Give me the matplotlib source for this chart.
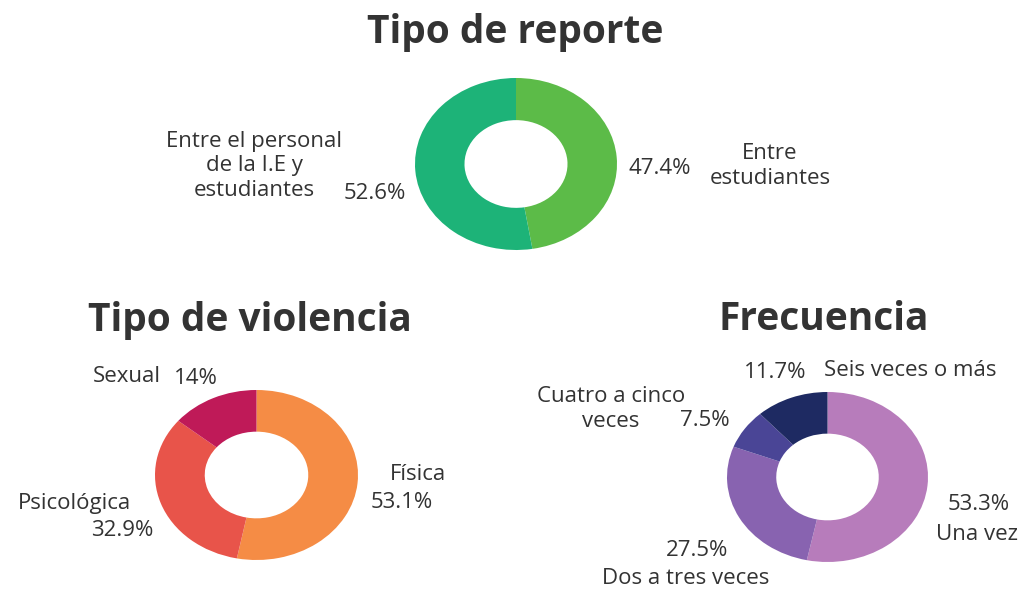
import matplotlib
matplotlib.use("Agg")
import matplotlib.pyplot as plt

plt.rcParams['font.family'] = ['Open Sans', 'DejaVu Sans']

# ---- data ----
reporte_labels = ["Entre\nestudiantes", "Entre el personal\nde la I.E y\nestudiantes"]
reporte_values = [47.4, 52.6]
reporte_pct = ["47.4%", "52.6%"]

violencia_labels = ["Física", "Psicológica", "Sexual"]
violencia_values = [53.1, 32.9, 14.0]
violencia_pct = ["53.1%", "32.9%", "14%"]

frecuencia_labels = ["Una vez", "Dos a tres veces", "Cuatro a cinco\nveces", "Seis veces o más"]
frecuencia_values = [53.3, 27.5, 7.5, 11.7]
frecuencia_pct = ["53.3%", "27.5%", "7.5%", "11.7%"]

titles = ["Tipo de reporte", "Tipo de violencia", "Frecuencia"]

# ---- styling ----
reporte_colors = ["#5cbb48", "#1db378"]
violencia_colors = ["#f58c45", "#e8544a", "#bf1a58"]
frecuencia_colors = ["#b77cbb", "#8863b0", "#4a4596", "#1e2a62"]
TXT = "#333333"
LS = 16
TS = 28

W, H = 1025, 590
fig = plt.figure(figsize=(W / 100, H / 100), dpi=100)
fig.patch.set_facecolor("white")


def px_axes(x0, y0, x1, y1):
    return fig.add_axes([x0 / W, 1 - y1 / H, (x1 - x0) / W, (y1 - y0) / H])


def donut(ax, values, colors):
    ax.pie(values, colors=colors, startangle=90, counterclock=False,
           radius=1.0, wedgeprops=dict(width=0.49, edgecolor="none", linewidth=0))
    ax.set_aspect("auto")
    ax.set_xlim(-1, 1)
    ax.set_ylim(-1, 1)
    ax.axis("off")


def ftext(x, y, s, size=LS, ha="center", weight="normal", ls=1.2):
    fig.text(x / W, 1 - y / H, s, ha=ha, va="center", fontsize=size,
             color=TXT, fontweight=weight, linespacing=ls, multialignment="center")


ax1 = px_axes(415, 78, 617, 250)
donut(ax1, reporte_values, reporte_colors)
ax2 = px_axes(155, 390, 358, 560)
donut(ax2, violencia_values, violencia_colors)
ax3 = px_axes(727, 392, 928, 562)
donut(ax3, frecuencia_values, frecuencia_colors)

# titles
ftext(515, 33, titles[0], size=TS, weight="bold")
ftext(250, 320, titles[1], size=TS, weight="bold")
ftext(824, 320, titles[2], size=TS, weight="bold")

# top chart labels
ftext(770, 166, reporte_labels[0])
ftext(660, 169, reporte_pct[0])
ftext(254, 166, reporte_labels[1])
ftext(375, 193, reporte_pct[1])

# violencia labels
ftext(418, 474, violencia_labels[0])
ftext(402, 503, violencia_pct[0])
ftext(74, 503, violencia_labels[1])
ftext(122, 531, violencia_pct[1])
ftext(127, 376, violencia_labels[2])
ftext(196, 379, violencia_pct[2])

# frecuencia labels
ftext(977, 535, frecuencia_labels[0])
ftext(979, 504, frecuencia_pct[0])
ftext(686, 579, frecuencia_labels[1])
ftext(697, 551, frecuencia_pct[1])
ftext(611, 409, frecuencia_labels[2])
ftext(705, 421, frecuencia_pct[2])
ftext(910, 371, frecuencia_labels[3])
ftext(775, 373, frecuencia_pct[3])

fig.savefig("out.png", dpi=100, facecolor="white")
